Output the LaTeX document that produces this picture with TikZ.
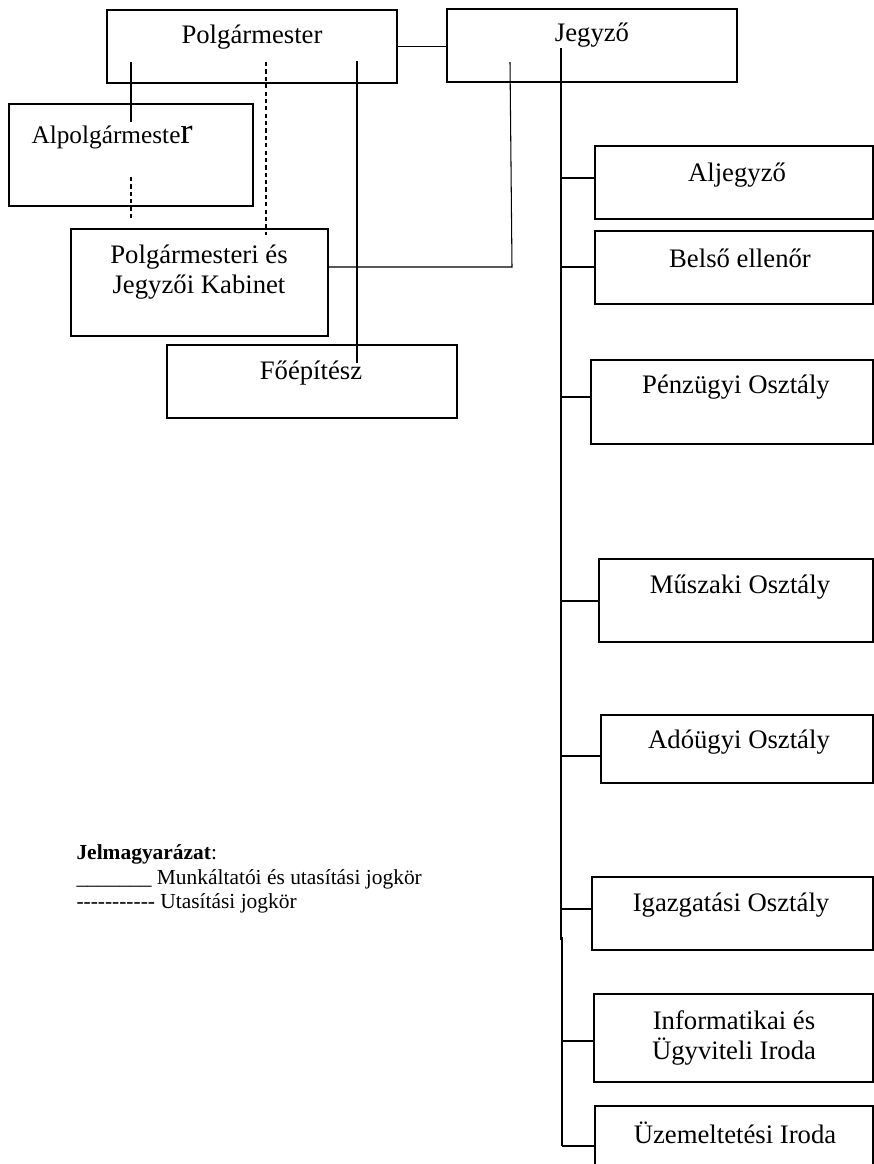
\documentclass[tikz,border=0pt]{standalone}
\usepackage{fontspec}
\setmainfont{Liberation Serif}
\usetikzlibrary{fit}
\newcommand\dashrun{-\kern0pt-\kern0pt-\kern0pt-\kern0pt-\kern0pt-\kern0pt-\kern0pt-\kern0pt-\kern0pt-\kern0pt-}
\tikzset{
    box/.style={draw, line width=0.7pt, inner sep=0pt},
    heavybox/.style={draw, line width=1.2pt, inner sep=0pt},
    txt/.style={font=\fontsize{15.2}{17.5}\selectfont, align=center, inner sep=0pt},
    dashline/.style={dash pattern=on 2.4pt off 1.8pt},
    heavy/.style={line width=1.1pt}
}

\begin{document}
\begin{tikzpicture}[x=0.02cm, y=-0.02cm, line width=0.6pt]
\useasboundingbox (0,0) rectangle (874,1164);
% top row and left column
\node[box, fit={(107,10) (397,83)}] (polg) {};
\node[box, fit={(447,9) (737,82)}] (jegyzo) {};
\node[heavybox, fit={(9,104) (253,206)}] (alpolg) {};
\node[box, fit={(71,229) (328,336)}] (kabinet) {};
\node[box, fit={(167,345) (457,418)}] (foepitesz) {};
\node[txt] (polgT) at (252,37) {Polgármester};
\node[txt] (jegyzoT) at (592,35) {Jegyző};
\node[txt, anchor=west, font=\fontsize{14.4}{17}\selectfont] (alpolgT) at (31,137) {Alpolgármeste{\fontsize{21}{21}\selectfont r}};
\node[txt] (kabinetT) at (199,272) {Polgármesteri és\\Jegyzői Kabinet};
\node[txt] (foepiteszT) at (311,373) {Főépítész};
% right column
\node[box, fit={(595,146) (873,219)}] (aljegyzo) {};
\node[box, fit={(595,231) (873,304)}] (belso) {};
\node[box, fit={(591,360) (873,444)}] (penzugy) {};
\node[box, fit={(599,559) (873,642)}] (muszaki) {};
\node[box, fit={(601,715) (873,783)}] (adougy) {};
\node[box, fit={(592,877) (873,950)}] (igazg) {};
\node[box, fit={(594,994) (873,1082)}] (infor) {};
\node[box, fit={(595,1106) (873,1180)}] (uzem) {};
\node[txt] (aljegyzoT) at (737,175) {Aljegyző};
\node[txt] (belsoT) at (740,258) {Belső ellenőr};
\node[txt] (penzugyT) at (736,387) {Pénzügyi Osztály};
\node[txt] (muszakiT) at (740,587) {Műszaki Osztály};
\node[txt] (adougyT) at (739,742) {Adóügyi Osztály};
\node[txt] (igazgT) at (731,905) {Igazgatási Osztály};
\node[txt] (inforT) at (734,1038) {Informatikai és\\Ügyviteli Iroda};
\node[txt] (uzemT) at (735,1133) {Üzemeltetési Iroda};
% legend
\node[anchor=north west, align=left, inner sep=0pt, font=\fontsize{12.2}{14}\selectfont] (legend) at (76,844)
    {\textbf{Jelmagyarázat}:\\\_\_\_\_\_\_\_ Munkáltatói és utasítási jogkör\\\dashrun{} Utasítási jogkör};
% connectors
\coordinate (pa) at (131,62);
\coordinate (pb) at (131,122);
\coordinate (ad) at (131,177);
\coordinate (ak) at (131,218);
\coordinate (pd) at (266,62);
\coordinate (pk) at (266,235);
\coordinate (pf) at (357,61);
\coordinate (fp) at (357,363);
\coordinate (jk) at (510,62);
\coordinate (kj) at (512,267);
\coordinate (trunk) at (561,48);
\coordinate (trunkmid) at (561,940);
\coordinate (trunklow) at (562,937);
\coordinate (trunkend) at (562,1146);
\draw (polg.east) -- (polg.east -| jegyzo.west);
\draw[heavy] (pa) -- (pb);
\draw[dashline] (ad) -- (ak);
\draw[dashline] (pd) -- (pk);
\draw (pf) -- (fp);
\draw (jk) -- (kj) -- (kj -| kabinet.east);
\draw (trunk) -- (trunkmid);
\draw[heavy] (trunklow) -- (trunkend);
\foreach \n/\y in {aljegyzo/178, belso/267, penzugy/397, muszaki/601, adougy/756, igazg/909}
    \draw (trunk |- 0,\y) -- (\n.west |- 0,\y);
\draw[heavy] (trunklow |- 0,1041) -- (infor.west |- 0,1041);
\draw[heavy] (trunkend) -- (uzem.west |- trunkend);
\end{tikzpicture}
\end{document}
